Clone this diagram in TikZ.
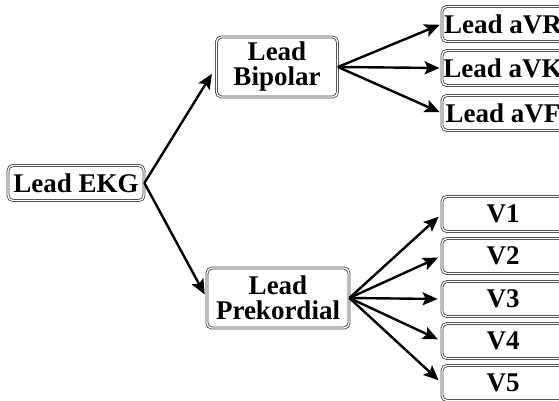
\documentclass[tikz,border=0pt]{standalone}
\usepackage{fontspec}
\setmainfont{Liberation Serif}
\usetikzlibrary{arrows.meta}

\begin{document}
\begin{tikzpicture}[x=1pt,y=-1pt,
		box/.style={draw=black!75,line width=0.8pt,double,double distance=1.3pt,rounded corners=5pt,
			font=\fontsize{27}{25}\selectfont\bfseries,align=center,inner sep=1pt,minimum height=35pt},
		leadarrow/.style={line width=2.4pt,-{Stealth[length=15pt,width=13pt,inset=3pt]}}]
					\useasboundingbox (0,0) rectangle (559,400);
					\clip (0,0) rectangle (559,400);
						\node(ekg)[box,minimum width=136pt] at (76,183) {Lead EKG};
						\node(bipolar)[box,minimum width=121pt,minimum height=60pt] at (277,67) {Lead\\Bipolar};
						\node(prekordial)[box,minimum width=142pt,minimum height=60pt] at (278,298) {Lead\\Prekordial};
						\node(avr)[box,minimum width=122pt] at (503,24) {Lead aVR};
						\node(avk)[box,minimum width=122pt] at (503,68) {Lead aVK};
						\node(avf)[box,minimum width=122pt] at (503,113) {Lead aVF};
						\node(v1)[box,minimum width=122pt] at (503,214) {V1};
						\node(v2)[box,minimum width=122pt] at (503,256) {V2};
						\node(v3)[box,minimum width=122pt] at (503,299) {V3};
						\node(v4)[box,minimum width=122pt] at (503,341) {V4};
						\node(v5)[box,minimum width=122pt] at (503,383) {V5};
						\draw[leadarrow,shorten >=8pt] (ekg.east) -- (bipolar.west);
						\draw[leadarrow,shorten >=4pt] (ekg.east) -- (prekordial.west);
						\draw[leadarrow,shorten >=2pt] (bipolar.east) -- (avr.west);
						\draw[leadarrow,shorten >=2pt] (bipolar.east) -- (avk.west);
						\draw[leadarrow,shorten >=2pt] (bipolar.east) -- (avf.west);
						\draw[leadarrow,shorten >=4pt] (prekordial.east) -- (v1.west);
						\draw[leadarrow,shorten >=4pt] (prekordial.east) -- (v2.west);
						\draw[leadarrow,shorten >=4pt] (prekordial.east) -- (v3.west);
						\draw[leadarrow,shorten >=4pt] (prekordial.east) -- (v4.west);
						\draw[leadarrow,shorten >=4pt] (prekordial.east) -- (v5.west);
				\end{tikzpicture}
\end{document}
